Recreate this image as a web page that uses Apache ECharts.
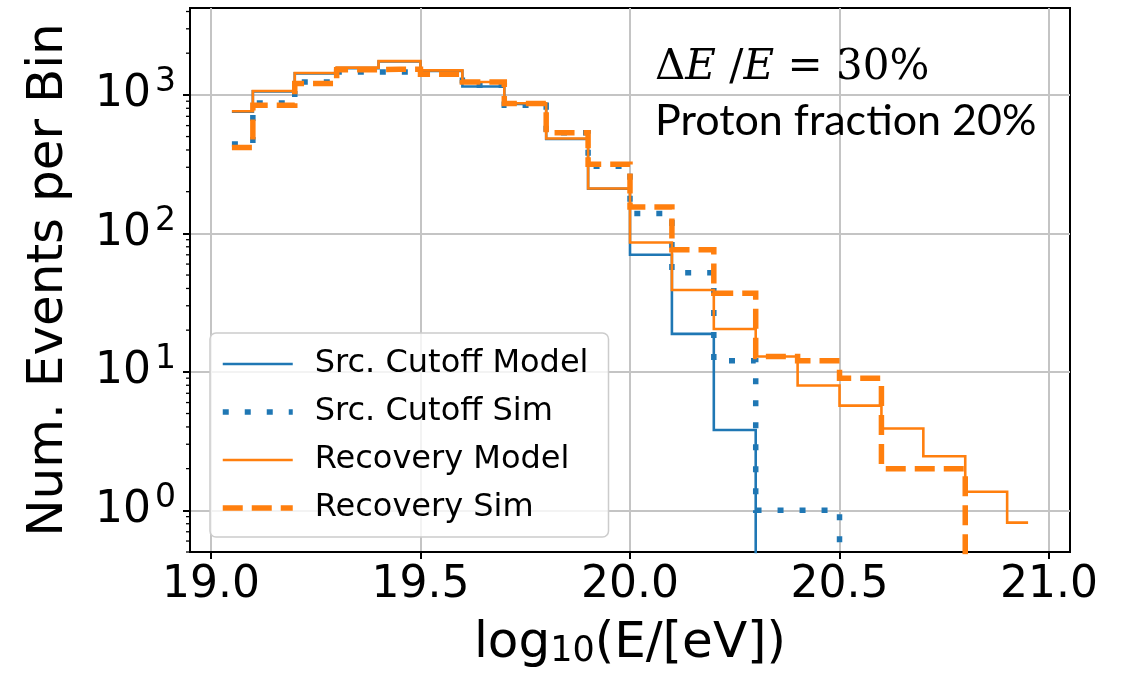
<!DOCTYPE html>
<html>
<head>
<meta charset="utf-8">
<script src="https://cdn.jsdelivr.net/npm/echarts@6/dist/echarts.min.js"></script>
<style>
html,body{margin:0;padding:0;background:#fff;}
#chart{width:1132px;height:678px;}
</style>
</head>
<body>
<div id="chart"></div>
<script>
// ---- data ----
const binCenters = [19.05, 19.15, 19.25, 19.35, 19.45, 19.55, 19.65, 19.75, 19.85, 19.95,
                    20.05, 20.15, 20.25, 20.35, 20.45, 20.55, 20.65, 20.75, 20.85, 20.95];
const srcCutoffModel = [755, 1060, 1430, 1560, 1740, 1490, 1150, 860, 480, 210, 70, 18.8, 3.8, 0, 0, 0, 0, 0, 0, 0];
const srcCutoffSim   = [441, 874, 1239, 1462, 1462, 1407, 1173, 841, 532, 305, 139, 52, 12, 1, 1, 0, 0, 0, 0, 0];
const recoveryModel  = [762, 1067, 1438, 1573, 1754, 1504, 1239, 870, 484, 211, 86, 39, 20.4, 12.9, 7.96, 5.7, 3.9, 2.46, 1.36, 0.815];
const recoverySim    = [417, 841, 1206, 1521, 1530, 1407, 1239, 866, 532, 316, 155, 76, 37, 12.9, 12, 9, 2, 2, 0, 0];
const seriesNames = ['Src. Cutoff Model', 'Src. Cutoff Sim', 'Recovery Model', 'Recovery Sim'];
const xTickValues = [19.0, 19.5, 20.0, 20.5, 21.0];
const yTickValues = [1, 10, 100, 1000];
const yMinorTickValues = [0.5, 0.6, 0.7, 0.8, 0.9, 2, 3, 4, 5, 6, 7, 8, 9, 20, 30, 40, 50, 60, 70, 80, 90,
                          200, 300, 400, 500, 600, 700, 800, 900, 2000, 3000, 4000];
const xRange = [18.95, 21.05];
const yRange = [0.5, 4240];

const BLUE = '#1f77b4', ORANGE = '#ff7f0e';
const FLOOR = 1e-3; // zero counts drawn below the axis (as on a log axis)
const pairs = arr => binCenters.map((x, i) => [x, arr[i] > 0 ? arr[i] : FLOOR]);

const chart = echarts.init(document.getElementById('chart'), null, {renderer: 'canvas'});
const FONT = 'DejaVu Sans';

function mkLine(name, arr, color, width, type) {
  return {
    name: name, type: 'line', step: 'middle', symbol: 'none', showSymbol: false,
    data: pairs(arr), clip: true,
    lineStyle: {color: color, width: width, type: type, cap: 'butt', join: 'miter'},
    itemStyle: {color: color},
    emphasis: {disabled: true}, animation: false
  };
}

const option = {
  animation: false,
  backgroundColor: '#fff',
  grid: {left: 190, right: 62, top: 8, bottom: 126, show: true, borderColor: '#000', borderWidth: 2, containLabel: false},
  xAxis: {
    type: 'value', min: xRange[0], max: xRange[1],
    axisLine: {show: true, lineStyle: {color: '#000', width: 2}},
    axisTick: {show: true, customValues: xTickValues, length: 7, inside: false, lineStyle: {color: '#000', width: 2}},
    axisLabel: {customValues: xTickValues, formatter: v => v.toFixed(1), fontFamily: FONT, fontSize: 44, color: '#000', margin: 12},
    splitLine: {show: true, lineStyle: {color: '#c4c4c4', width: 2}},
    name: 'log{sub|10}(E/[eV])', nameLocation: 'middle', nameGap: 67,
    nameTextStyle: {fontFamily: FONT, fontSize: 50, color: '#000',
      rich: {sub: {fontFamily: FONT, fontSize: 35, color: '#000', verticalAlign: 'bottom', padding: [14, 0, 0, 0]}}}
  },
  yAxis: {
    type: 'log', logBase: 10, min: yRange[0], max: yRange[1],
    axisLine: {show: true, lineStyle: {color: '#000', width: 2}},
    axisTick: {show: true, customValues: yTickValues, length: 7, lineStyle: {color: '#000', width: 2}},
    axisLabel: {
      customValues: yTickValues,
      formatter: v => {
        const e = Math.log10(v); const r = Math.round(e);
        return Math.abs(e - r) < 1e-6 ? '10{s|' + r + '}' : '';
      },
      fontFamily: FONT, fontSize: 44, color: '#000', margin: 14,
      rich: {s: {fontFamily: FONT, fontSize: 33, color: '#000', verticalAlign: 'top', padding: [0, 0, 24, 4]}}
    },
    splitLine: {show: true, lineStyle: {color: '#c4c4c4', width: 2}},
    name: 'Num. Events per Bin', nameLocation: 'middle', nameGap: 116,
    nameTextStyle: {fontFamily: FONT, fontSize: 50, color: '#000'}
  },
  legend: {
    orient: 'vertical', left: 210, top: 333,
    data: seriesNames,
    itemWidth: 70, itemHeight: 14, itemGap: 16,
    padding: [15, 20, 13, 10],
    backgroundColor: 'rgba(255,255,255,0.8)', borderColor: '#cccccc', borderWidth: 1.5, borderRadius: 6,
    textStyle: {fontFamily: FONT, fontSize: 32, color: '#000', padding: [0, 0, 0, 17]},
    lineStyle: {width: 'inherit'},
    itemStyle: {opacity: 0, borderWidth: 0},
    selectedMode: false
  },
  graphic: [
    {type: 'text', left: 655, top: 47, z: 100, style: {
      text: '{u|Δ}{i|E}{u| /}{i|E}{u| = 30%}',
      rich: {
        u: {fontFamily: 'DejaVu Serif', fontSize: 42, fill: '#000'},
        i: {fontFamily: 'DejaVu Serif', fontStyle: 'italic', fontSize: 42, fill: '#000'}
      }
    }},
    {type: 'text', left: 655, top: 100, z: 100, style: {
      text: 'Proton fraction 20%', fontFamily: 'Lato', fontSize: 43, fill: '#000'
    }}
  ],
  series: [
    mkLine(seriesNames[0], srcCutoffModel, BLUE, 2.6, 'solid'),
    mkLine(seriesNames[1], srcCutoffSim, BLUE, 5.5, [6, 16]),
    mkLine(seriesNames[2], recoveryModel, ORANGE, 2.6, 'solid'),
    mkLine(seriesNames[3], recoverySim, ORANGE, 5.5, [20, 9]),
    {
      name: 'minorTicks', type: 'custom', clip: false, silent: true, animation: false,
      data: yMinorTickValues.map(v => [xRange[0], v]),
      renderItem: (params, api) => {
        const p = api.coord([api.value(0), api.value(1)]);
        return {type: 'line', shape: {x1: p[0] - 4, y1: p[1], x2: p[0], y2: p[1]},
                style: {stroke: '#000', lineWidth: 1.3}};
      }
    }
  ]
};
chart.setOption(option);
</script>
</body>
</html>
